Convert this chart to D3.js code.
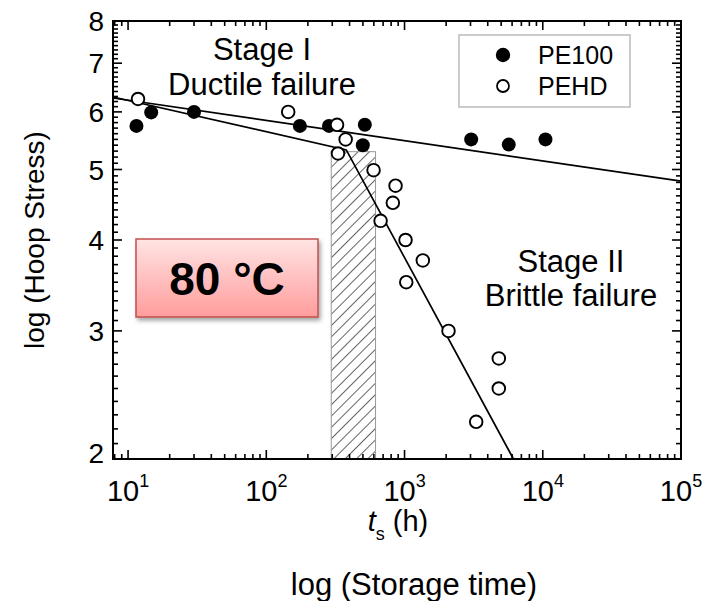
<!DOCTYPE html>
<html>
<head>
<meta charset="utf-8">
<style>
  body { margin: 0; background: #fff; }
  text { font-family: "Liberation Sans", Arial, sans-serif; fill: #000; }
</style>
<script src="https://cdn.jsdelivr.net/npm/d3@7"></script>
</head>
<body>
<div id="chart"></div>
<script>
// storage time (h) and hoop stress (MPa)
var pe100Time   = [11.5, 14.7, 30, 175, 284, 516, 499, 3035, 5675, 10460];
var pe100Stress = [5.74, 5.99, 6.0, 5.74, 5.74, 5.76, 5.40, 5.50, 5.41, 5.50];

var pehdTime   = [11.8, 144, 325, 375, 330, 597, 861, 823, 671, 1017, 1356, 1029, 2080, 4808, 4808, 3299];
var pehdStress = [6.25, 6.0, 5.76, 5.50, 5.26, 4.99, 4.75, 4.50, 4.25, 4.0, 3.75, 3.5, 3.0, 2.75, 2.5, 2.25];

// fitted lines
var pe100FitTime   = [7.78, 100000];
var pe100FitStress = [6.27, 4.82];
var pehdFitTime    = [7.78, 379, 6138];
var pehdFitStress  = [6.29, 5.32, 2.0];

// hatched transition band
var bandTime = [295, 617];
var bandTop = 5.29;

var xTickPowers = [1, 2, 3, 4, 5];
var yTickValues = [2, 3, 4, 5, 6, 7, 8];

var margin = { top: 21, left: 113 },
    width = 568, height = 438;

var svg = d3.select("#chart").append("svg")
  .attr("width", 715).attr("height", 601);

var x = d3.scaleLog().domain([7.78, 100000]).range([margin.left, margin.left + width]);
var y = d3.scaleLog().domain([2, 8]).range([margin.top + height, margin.top]);

var defs = svg.append("defs");
var pat = defs.append("pattern")
  .attr("id", "hatch").attr("patternUnits", "userSpaceOnUse")
  .attr("width", 8).attr("height", 8)
  .attr("patternTransform", "rotate(45)");
pat.append("line").attr("x1", 0).attr("y1", 0).attr("x2", 0).attr("y2", 8)
  .attr("stroke", "#222").attr("stroke-width", 1.4);

var grad = defs.append("linearGradient").attr("id", "boxfill")
  .attr("x1", 0).attr("y1", 0).attr("x2", 0).attr("y2", 1);
grad.append("stop").attr("offset", "0%").attr("stop-color", "#ffe4e4");
grad.append("stop").attr("offset", "100%").attr("stop-color", "#ff9c9c");

var shadow = defs.append("filter").attr("id", "shadow")
  .attr("x", "-10%").attr("y", "-10%").attr("width", "130%").attr("height", "140%");
shadow.append("feDropShadow").attr("dx", 2).attr("dy", 3)
  .attr("stdDeviation", 2).attr("flood-color", "#000").attr("flood-opacity", 0.35);

// hatched band
svg.append("rect")
  .attr("x", x(bandTime[0])).attr("y", y(bandTop))
  .attr("width", x(bandTime[1]) - x(bandTime[0]))
  .attr("height", y(2) - y(bandTop))
  .attr("fill", "url(#hatch)").attr("stroke", "#999").attr("stroke-width", 1);

// tick values
var majorX = xTickPowers.map(function(e) { return Math.pow(10, e); });
var minorX = [];
for (var p = 0; p < 5; p++)
  for (var m = 2; m < 10; m++) {
    var v = m * Math.pow(10, p);
    if (v >= 7.78 && v <= 100000) minorX.push(v);
  }
var minorY = [];
for (var k = 21; k < 80; k++) if (k % 10 != 0) minorY.push(k / 10);

var x0 = x.range()[0], x1 = x.range()[1], yb = y(2), yt = y(8);

// ticks on all four sides, pointing inward
var xTicks = minorX.map(function(d) { return [d, 5]; })
  .concat(majorX.map(function(d) { return [d, 9]; }));
var yTicks = minorY.map(function(d) { return [d, 5]; })
  .concat(yTickValues.map(function(d) { return [d, 9]; }));

var tickG = svg.append("g").attr("stroke", "#000").attr("stroke-width", 1.6);
tickG.selectAll(".xb").data(xTicks).enter().append("line")
  .attr("x1", function(d) { return x(d[0]); }).attr("x2", function(d) { return x(d[0]); })
  .attr("y1", yb).attr("y2", function(d) { return yb - d[1]; });
tickG.selectAll(".xt").data(xTicks).enter().append("line")
  .attr("x1", function(d) { return x(d[0]); }).attr("x2", function(d) { return x(d[0]); })
  .attr("y1", yt).attr("y2", function(d) { return yt + d[1]; });
tickG.selectAll(".yl").data(yTicks).enter().append("line")
  .attr("y1", function(d) { return y(d[0]); }).attr("y2", function(d) { return y(d[0]); })
  .attr("x1", x0).attr("x2", function(d) { return x0 + d[1]; });
tickG.selectAll(".yr").data(yTicks).enter().append("line")
  .attr("y1", function(d) { return y(d[0]); }).attr("y2", function(d) { return y(d[0]); })
  .attr("x1", x1).attr("x2", function(d) { return x1 - d[1]; });

// frame
svg.append("rect")
  .attr("x", x0).attr("y", yt)
  .attr("width", width).attr("height", height)
  .attr("fill", "none").attr("stroke", "#000").attr("stroke-width", 2);

// tick labels
var xl = svg.selectAll(".xlab").data(xTickPowers).enter().append("text")
  .attr("class", "xlab")
  .attr("x", function(d) { return x(Math.pow(10, d)); })
  .attr("y", 501)
  .attr("text-anchor", "middle")
  .style("font-size", "29px");
xl.append("tspan").text("10");
xl.append("tspan").attr("dy", -14).style("font-size", "18px").text(function(d) { return d; });

svg.selectAll(".ylab").data(yTickValues).enter().append("text")
  .attr("class", "ylab")
  .attr("x", 104)
  .attr("y", function(d) { return d == 2 ? y(d) - 6 : y(d); })
  .attr("dy", "0.36em")
  .attr("text-anchor", "end")
  .style("font-size", "28px")
  .text(function(d) { return d; });

// fitted lines
var line = d3.line().x(function(d) { return x(d[0]); }).y(function(d) { return y(d[1]); });
svg.append("path").datum(d3.zip(pe100FitTime, pe100FitStress))
  .attr("d", line).attr("fill", "none").attr("stroke", "#000").attr("stroke-width", 1.7);
svg.append("path").datum(d3.zip(pehdFitTime, pehdFitStress))
  .attr("d", line).attr("fill", "none").attr("stroke", "#000").attr("stroke-width", 1.7);

// points
svg.selectAll(".pe100").data(d3.zip(pe100Time, pe100Stress)).enter().append("circle")
  .attr("cx", function(d) { return x(d[0]); })
  .attr("cy", function(d) { return y(d[1]); })
  .attr("r", 7).attr("fill", "#000");
svg.selectAll(".pehd").data(d3.zip(pehdTime, pehdStress)).enter().append("circle")
  .attr("cx", function(d) { return x(d[0]); })
  .attr("cy", function(d) { return y(d[1]); })
  .attr("r", 6.3).attr("fill", "#fff").attr("stroke", "#000").attr("stroke-width", 1.9);

// legend
svg.append("rect").attr("x", 459).attr("y", 35).attr("width", 171).attr("height", 72)
  .attr("fill", "#fff").attr("stroke", "#bbb").attr("stroke-width", 1.5);
svg.append("circle").attr("cx", 503).attr("cy", 55).attr("r", 7.2).attr("fill", "#000");
svg.append("circle").attr("cx", 503).attr("cy", 86).attr("r", 6)
  .attr("fill", "#fff").attr("stroke", "#000").attr("stroke-width", 1.8);
svg.append("text").attr("x", 538).attr("y", 64).style("font-size", "25px").text("PE100");
svg.append("text").attr("x", 538).attr("y", 95).style("font-size", "25px").text("PEHD");

// stage annotations
function label(cx, by, str, size) {
  svg.append("text").attr("x", cx).attr("y", by).attr("text-anchor", "middle")
    .style("font-size", size + "px").text(str);
}
label(262, 60, "Stage I", 31);
label(262, 95, "Ductile failure", 31);
label(571, 272, "Stage II", 31);
label(571, 306, "Brittle failure", 31);

// temperature box
svg.append("rect").attr("x", 136).attr("y", 239).attr("width", 182).attr("height", 78)
  .attr("fill", "url(#boxfill)").attr("stroke", "#c0504d").attr("stroke-width", 1.5)
  .attr("filter", "url(#shadow)");
svg.append("text").attr("x", 227).attr("y", 295).attr("text-anchor", "middle")
  .style("font-size", "46px").style("font-weight", "bold").text("80 °C");

// axis titles
var xt = svg.append("text").attr("x", 398).attr("y", 531).attr("text-anchor", "middle")
  .style("font-size", "29px");
xt.append("tspan").style("font-style", "italic").text("t");
xt.append("tspan").attr("dy", 9).style("font-size", "18px").text("s");
xt.append("tspan").attr("dy", -9).text(" (h)");

svg.append("text").attr("transform", "translate(44,240) rotate(-90)")
  .attr("text-anchor", "middle").style("font-size", "28px").text("log (Hoop Stress)");

svg.append("text").attr("x", 414).attr("y", 595).attr("text-anchor", "middle")
  .style("font-size", "31px").text("log (Storage time)");
</script>
</body>
</html>
